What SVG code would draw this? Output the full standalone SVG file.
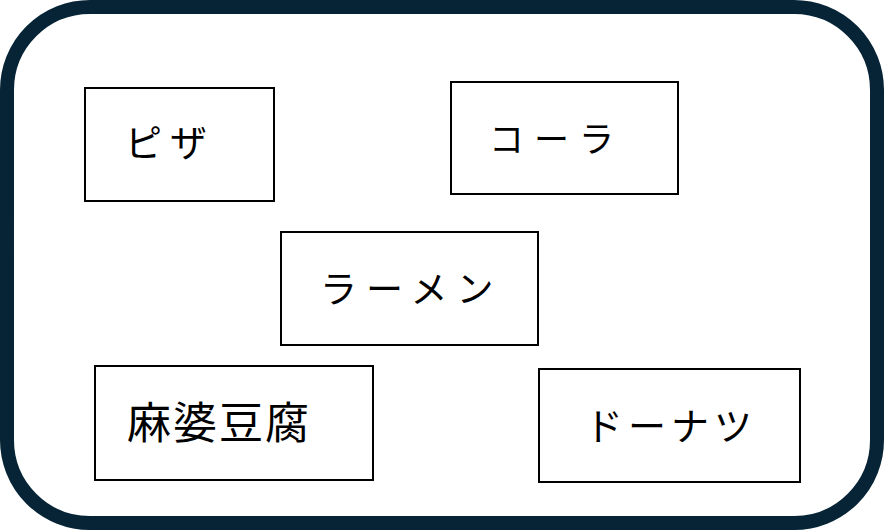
<svg xmlns="http://www.w3.org/2000/svg" width="884" height="530" viewBox="0 0 884 530">
<style>
.frame{fill:#ffffff;stroke:#062436;stroke-width:14}
.box{fill:#ffffff;stroke:#000000;stroke-width:2}
.lbl{font-family:"Noto Sans CJK JP","Noto Sans CJK SC",sans-serif;font-weight:400;fill:#000000}
</style>
<rect x="0" y="0" width="884" height="530" fill="#ffffff"/>
<g id="frame"><rect class="frame" x="7" y="7" width="870" height="516" rx="83" ry="83"/></g>
<g id="connectors"></g>
<g id="pizza"><rect class="box" x="85" y="88" width="189" height="113"/><text class="lbl" x="125" y="157" font-size="37" letter-spacing="8">ピザ</text></g>
<g id="cola"><rect class="box" x="451" y="82" width="227" height="112"/><text class="lbl" x="489" y="152" font-size="35" letter-spacing="10">コーラ</text></g>
<g id="ramen"><rect class="box" x="281" y="232" width="257" height="113"/><text class="lbl" x="320" y="303" font-size="37" letter-spacing="9">ラーメン</text></g>
<g id="mapo"><rect class="box" x="95" y="366" width="278" height="114"/><text class="lbl" x="127" y="439" font-size="44" letter-spacing="2">麻婆豆腐</text></g>
<g id="donut"><rect class="box" x="539" y="369" width="261" height="113"/><text class="lbl" x="585" y="440" font-size="38" letter-spacing="5">ドーナツ</text></g>
</svg>
